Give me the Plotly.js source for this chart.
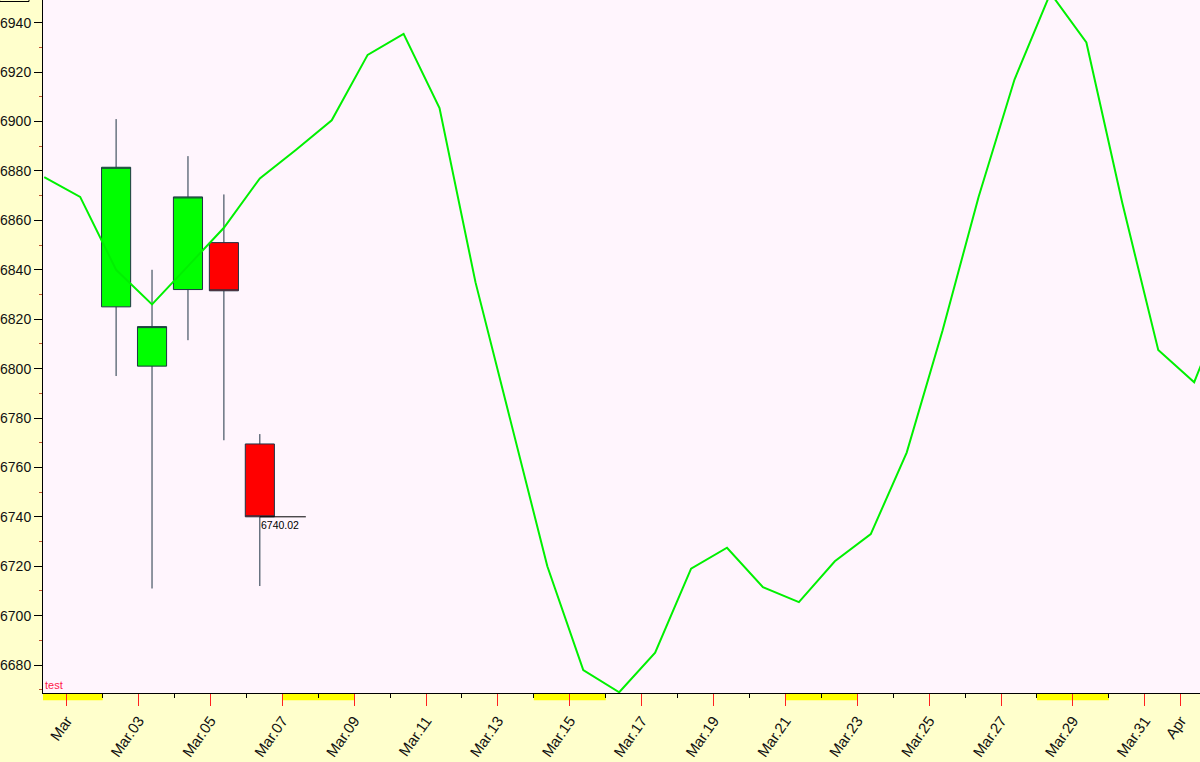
<!DOCTYPE html>
<html>
<head>
<meta charset="utf-8">
<script src="https://cdn.plot.ly/plotly-3.0.1.min.js"></script>
<style>
html,body{margin:0;padding:0;background:#ffffcc;}
#chart{width:1200px;height:762px;}
</style>
</head>
<body>
<div id="chart"></div>
<script>
// ---- data ----
const lineDates = [
  "2025-02-28 09:00","2025-03-01 09:00","2025-03-02 09:00","2025-03-03 09:00","2025-03-04 09:00",
  "2025-03-05 09:00","2025-03-06 09:00","2025-03-07 09:00","2025-03-08 09:00","2025-03-09 09:00",
  "2025-03-10 09:00","2025-03-11 09:00","2025-03-12 09:00","2025-03-13 09:00","2025-03-14 09:00",
  "2025-03-15 09:00","2025-03-16 09:00","2025-03-17 09:00","2025-03-18 09:00","2025-03-19 09:00",
  "2025-03-20 09:00","2025-03-21 09:00","2025-03-22 09:00","2025-03-23 09:00","2025-03-24 09:00",
  "2025-03-25 09:00","2025-03-26 09:00","2025-03-27 09:00","2025-03-28 09:00","2025-03-29 09:00",
  "2025-03-30 09:00","2025-03-31 09:00","2025-04-01 09:00","2025-04-02 09:00"
];
const lineValues = [
  6877.5, 6869.5, 6840, 6826, 6841.5,
  6857, 6877, 6888.5, 6900.5, 6927,
  6935.5, 6905.5, 6835, 6777, 6720,
  6678, 6669, 6685, 6719, 6727.5,
  6711.5, 6705.5, 6722, 6733, 6766,
  6815.5, 6869.5, 6917, 6952, 6932,
  6867, 6807.5, 6794.5, 6831
];

const candleDates = ["2025-03-02 09:00","2025-03-03 09:00","2025-03-04 09:00","2025-03-05 09:00","2025-03-06 09:00"];
const candleOpen  = [6825, 6801, 6832, 6851, 6769.5];
const candleHigh  = [6901, 6840, 6886, 6870.5, 6773.5];
const candleLow   = [6797, 6711, 6811.5, 6771, 6712];
const candleClose = [6881.5, 6817, 6869.5, 6831.5, 6740.02];

const lastCloseLabel = "6740.02";

const majorTickDates = [
  "2025-03-01","2025-03-03","2025-03-05","2025-03-07","2025-03-09","2025-03-11","2025-03-13",
  "2025-03-15","2025-03-17","2025-03-19","2025-03-21","2025-03-23","2025-03-25","2025-03-27",
  "2025-03-29","2025-03-31","2025-04-01"
];
const majorTickLabels = [
  "Mar","Mar.03","Mar.05","Mar.07","Mar.09","Mar.11","Mar.13","Mar.15","Mar.17","Mar.19",
  "Mar.21","Mar.23","Mar.25","Mar.27","Mar.29","Mar.31","Apr"
];
const minorTickDates = [
  "2025-03-02","2025-03-04","2025-03-06","2025-03-08","2025-03-10","2025-03-12","2025-03-14",
  "2025-03-16","2025-03-18","2025-03-20","2025-03-22","2025-03-24","2025-03-26","2025-03-28",
  "2025-03-30"
];

// weekend bands [start, end]
const weekendStarts = ["2025-02-28","2025-03-07","2025-03-14","2025-03-21","2025-03-28"];
const weekendEnds   = ["2025-03-02","2025-03-09","2025-03-16","2025-03-23","2025-03-30"];

const chartLabel = "test";

// ---- traces ----
const lineTrace = {
  type: "scatter", mode: "lines",
  x: lineDates, y: lineValues,
  line: {color: "#00f000", width: 2},
  hoverinfo: "skip", showlegend: false
};

const candleTrace = {
  type: "candlestick",
  x: candleDates, open: candleOpen, high: candleHigh, low: candleLow, close: candleClose,
  increasing: {fillcolor: "#00ff00", line: {color: "#1f3444", width: 1}},
  decreasing: {fillcolor: "#ff0000", line: {color: "#1f3444", width: 1}},
  whiskerwidth: 0,
  hoverinfo: "skip", showlegend: false
};

// ---- shapes ----
const shapes = [];
for (let i = 0; i < weekendStarts.length; i++) {
  shapes.push({
    type: "rect", xref: "x", yref: "paper",
    x0: weekendStarts[i], x1: weekendEnds[i], y0: 0, y1: -0.0105,
    fillcolor: "#ffff00", line: {width: 0}, layer: "below"
  });
}
const lastIdx = candleDates.length - 1;
const lastDate = new Date(candleDates[lastIdx].replace(" ", "T") + "Z");
const lineEnd = new Date(lastDate.getTime() + 1.28 * 86400000);
shapes.push({
  type: "line", xref: "x", yref: "y",
  x0: candleDates[lastIdx], x1: lineEnd.toISOString().slice(0,19).replace("T"," "),
  y0: candleClose[lastIdx], y1: candleClose[lastIdx],
  line: {color: "#000000", width: 1}
});
// small box fragment at top-left corner
shapes.push({
  type: "rect", xref: "paper", yref: "paper",
  x0: -0.0375, x1: -0.0121, y0: 1 - 1.5/693, y1: 1.05,
  line: {color: "#000000", width: 1}, fillcolor: "rgba(0,0,0,0)"
});

const annotations = [
  {
    xref: "x", yref: "y", x: candleDates[lastIdx], y: candleClose[lastIdx],
    text: lastCloseLabel, showarrow: false, xanchor: "left", yanchor: "top",
    xshift: -1, yshift: 0,
    font: {family: "Liberation Sans, Arial, sans-serif", size: 10.5, color: "#000000"}
  },
  {
    xref: "paper", yref: "paper", x: 0, y: 0, text: chartLabel, showarrow: false,
    xanchor: "left", yanchor: "bottom", xshift: 0, yshift: 0,
    font: {family: "Liberation Sans, Arial, sans-serif", size: 11, color: "#ff1a4a"}
  }
];

const layout = {
  width: 1200, height: 762,
  margin: {l: 43, r: 0, t: 0, b: 69, pad: 0},
  paper_bgcolor: "#ffffcc",
  plot_bgcolor: "#fff5fd",
  showlegend: false,
  hovermode: false,
  boxgap: 0.19, boxgroupgap: 0,
  font: {family: "Liberation Sans, Arial, sans-serif", color: "#111111"},
  xaxis: {
    type: "date",
    range: ["2025-02-28 08:11", "2025-04-01 12:53"],
    rangeslider: {visible: false},
    showgrid: false, zeroline: false,
    showline: true, linecolor: "#000000", linewidth: 1,
    tickmode: "array", tickvals: majorTickDates, ticktext: majorTickLabels,
    ticks: "outside", ticklen: 12, tickwidth: 1, tickcolor: "#ff2020",
    tickangle: -55,
    tickfont: {family: "Liberation Sans, Arial, sans-serif", size: 15, color: "#111111"},
    minor: {tickmode: "array", tickvals: minorTickDates, ticks: "outside", ticklen: 4, tickwidth: 1, tickcolor: "#000000", showgrid: false},
    fixedrange: true
  },
  yaxis: {
    range: [6668.7, 6949.2],
    showgrid: false, zeroline: false,
    showline: true, linecolor: "#000000", linewidth: 1,
    tickmode: "linear", tick0: 6680, dtick: 20,
    ticks: "outside", ticklen: 8, tickwidth: 1, tickcolor: "#000000",
    tickfont: {family: "Liberation Sans, Arial, sans-serif", size: 14, color: "#111111"},
    minor: {tickmode: "linear", tick0: 6670, dtick: 10, ticks: "outside", ticklen: 3, tickwidth: 1, tickcolor: "#c05030", showgrid: false},
    fixedrange: true
  },
  shapes: shapes,
  annotations: annotations
};

Plotly.newPlot("chart", [lineTrace, candleTrace], layout, {staticPlot: true, displayModeBar: false});
</script>
</body>
</html>
